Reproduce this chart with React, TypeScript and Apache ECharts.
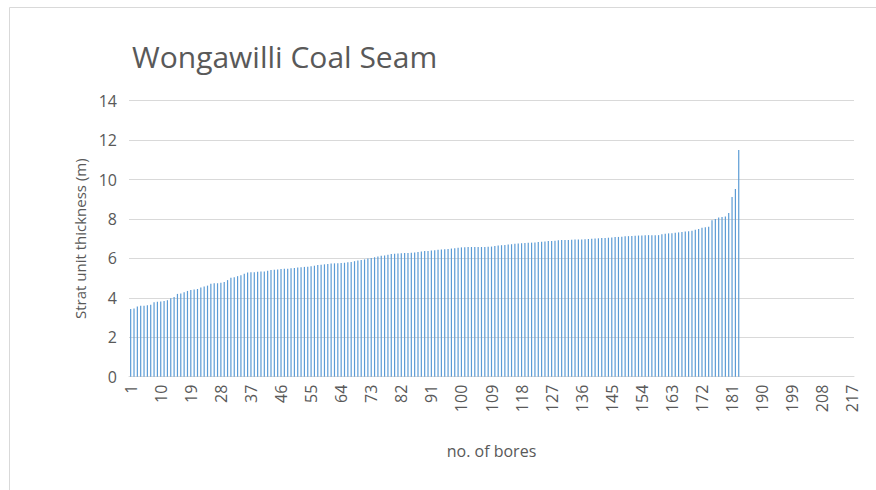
import React, { useEffect, useRef } from "react";
import * as echarts from "echarts";

const TITLE = "Wongawilli Coal Seam";
const X_NAME = "no. of bores";
const Y_NAME = "Strat unit thickness (m)";
const CATEGORY_COUNT = 217;
const categories: string[] = Array.from({ length: CATEGORY_COUNT }, (_, i) => String(i + 1));

const thickness: number[] = [
  3.43, 3.46, 3.56, 3.6, 3.6, 3.63, 3.65, 3.78, 3.8, 3.82,
  3.84, 3.88, 3.98, 4.04, 4.2, 4.22, 4.28, 4.35, 4.4, 4.42,
  4.45, 4.52, 4.58, 4.62, 4.72, 4.74, 4.74, 4.76, 4.8, 4.9,
  5.02, 5.05, 5.1, 5.14, 5.22, 5.28, 5.3, 5.3, 5.32, 5.33,
  5.34, 5.38, 5.41, 5.42, 5.44, 5.46, 5.47, 5.48, 5.5, 5.52,
  5.54, 5.55, 5.57, 5.58, 5.6, 5.63, 5.66, 5.68, 5.7, 5.72,
  5.74, 5.75, 5.76, 5.77, 5.78, 5.8, 5.82, 5.86, 5.9, 5.92,
  5.95, 5.99, 6.02, 6.06, 6.1, 6.13, 6.15, 6.18, 6.22, 6.24,
  6.25, 6.26, 6.27, 6.28, 6.29, 6.3, 6.32, 6.35, 6.37, 6.38,
  6.4, 6.42, 6.44, 6.45, 6.46, 6.48, 6.5, 6.52, 6.54, 6.56,
  6.57, 6.58, 6.58, 6.58, 6.58, 6.58, 6.58, 6.59, 6.6, 6.63,
  6.66, 6.67, 6.68, 6.7, 6.72, 6.74, 6.76, 6.77, 6.78, 6.79,
  6.8, 6.81, 6.83, 6.85, 6.86, 6.88, 6.88, 6.9, 6.92, 6.93,
  6.93, 6.94, 6.95, 6.96, 6.96, 6.96, 6.97, 6.98, 7.0, 7.01,
  7.02, 7.03, 7.04, 7.05, 7.06, 7.08, 7.09, 7.1, 7.12, 7.13,
  7.14, 7.15, 7.16, 7.16, 7.17, 7.18, 7.18, 7.18, 7.18, 7.22,
  7.25, 7.27, 7.28, 7.3, 7.32, 7.34, 7.37, 7.38, 7.4, 7.45,
  7.49, 7.55, 7.58, 7.6, 7.93, 8.0, 8.07, 8.1, 8.13, 8.3,
  9.12, 9.52, 11.5,
];

const FONT = "'Open Sans', 'Noto Sans', sans-serif";
const TEXT_COLOR = "#595959";
const GRID_COLOR = "#D9D9D9";

export default function App() {
  const ref = useRef<HTMLDivElement>(null);
  useEffect(() => {
    if (!ref.current) return;
    const chart = echarts.init(ref.current, undefined, { renderer: "svg" });
    chart.setOption({
      animation: false,
      backgroundColor: "#ffffff",
      title: {
        text: TITLE,
        left: 127,
        top: 36,
        textStyle: { fontFamily: FONT, fontSize: 30, fontWeight: "normal", color: TEXT_COLOR },
      },
      graphic: [
        {
          type: "rect",
          shape: { x: 9.5, y: 7.5, width: 900, height: 520 },
          style: { fill: "none", stroke: GRID_COLOR, lineWidth: 1 },
          silent: true,
        },
      ],
      grid: { left: 129, right: 22, top: 100.7, bottom: 113.3, containLabel: false },
      xAxis: {
        type: "category",
        data: categories,
        name: X_NAME,
        nameLocation: "middle",
        nameGap: 66,
        nameTextStyle: { fontFamily: FONT, fontSize: 16, color: TEXT_COLOR },
        axisLine: { lineStyle: { color: GRID_COLOR, width: 1 } },
        axisTick: { show: false },
        axisLabel: {
          interval: 8,
          rotate: 90,
          fontFamily: FONT,
          fontSize: 16,
          color: TEXT_COLOR,
          margin: 8,
        },
      },
      yAxis: {
        type: "value",
        min: 0,
        max: 14,
        interval: 2,
        name: Y_NAME,
        nameLocation: "middle",
        nameGap: 27,
        nameTextStyle: { fontFamily: FONT, fontSize: 15, color: TEXT_COLOR },
        axisLine: { show: false },
        axisTick: { show: false },
        axisLabel: { fontFamily: FONT, fontSize: 16, color: TEXT_COLOR, margin: 12 },
        splitLine: { lineStyle: { color: GRID_COLOR, width: 1 } },
      },
      series: [
        {
          type: "bar",
          data: thickness,
          barWidth: 1.2,
          itemStyle: { color: "#5B9BD5" },
        },
      ],
    });
    return () => chart.dispose();
  }, []);
  return (
    <div
      ref={ref}
      style={{ position: "fixed", left: 0, top: 0, width: 876, height: 490 }}
    />
  );
}
